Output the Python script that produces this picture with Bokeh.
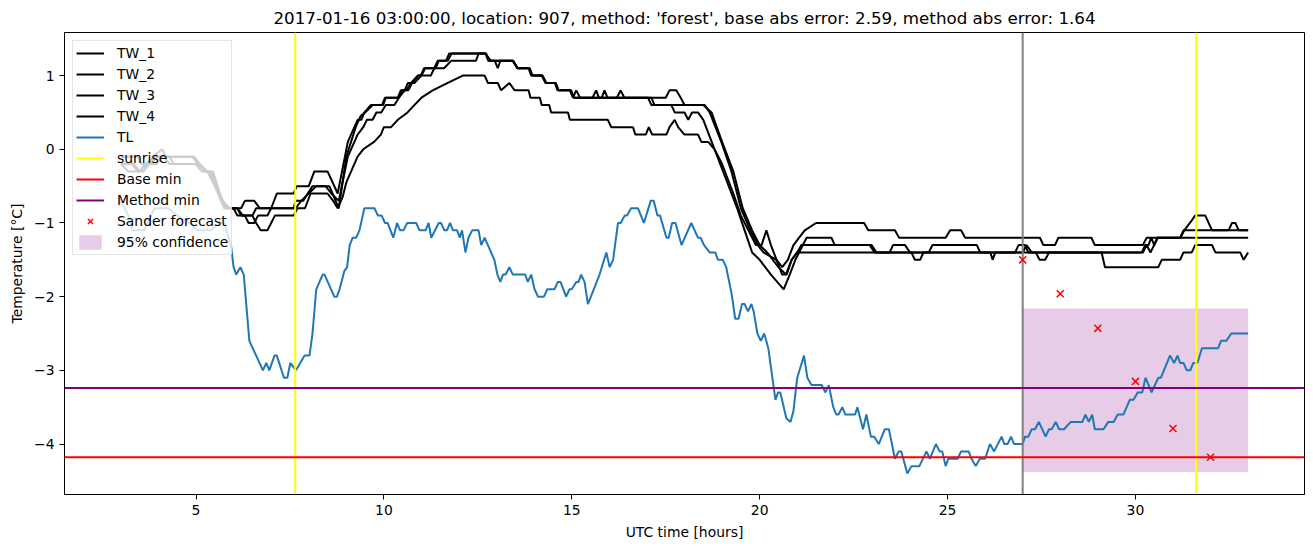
from bokeh.plotting import figure
from bokeh.models import Range1d, Legend, LegendItem, FixedTicker, CustomJSTickFormatter
from bokeh.embed import file_html
from bokeh.resources import INLINE

TITLE = "2017-01-16 03:00:00, location: 907, method: 'forest', base abs error: 2.59, method abs error: 1.64"
X_LABEL = "UTC time [hours]"
Y_LABEL = "Temperature [\u00b0C]"
X_TICKS = [5, 10, 15, 20, 25, 30]
Y_TICKS = [-4, -3, -2, -1, 0, 1]

# (hour, value) pairs
TW_1 = [(3.0,-0.1),(3.45,-0.1),(3.55,-0.2),(3.75,-0.2),(3.85,-0.1),(4.1,0.0),(4.2,-0.1),(4.95,-0.1),(5.1,-0.2),(5.3,-0.3),(5.5,-0.5),(5.75,-0.8),(6.2,-0.8),(6.3,-0.7),(6.55,-0.7),(6.7,-0.8),(7.0,-0.8),(7.15,-0.6),(7.6,-0.6),(7.68,-0.5),(8.0,-0.5),(8.15,-0.3),(8.5,-0.3),(8.77,-0.6),(9.04,0.1),(9.3,0.4),(9.4,0.4),(9.48,0.5),(9.65,0.6),(9.95,0.6),(10.03,0.7),(10.37,0.7),(10.45,0.8),(10.6,0.8),(10.72,0.9),(10.9,1.0),(10.98,1.0),(11.07,1.1),(11.34,1.1),(11.43,1.2),(11.65,1.2),(11.74,1.3),(12.72,1.3),(12.8,1.2),(13.45,1.2),(13.55,1.1),(13.85,1.1),(13.92,1.0),(14.2,1.0),(14.3,0.9),(14.55,0.9),(14.62,0.8),(14.95,0.8),(15.03,0.7),(15.12,0.8),(15.22,0.7),(15.8,0.7),(15.87,0.8),(15.95,0.7),(17.03,0.7),(17.12,0.6),(18.54,0.6),(18.67,0.5),(18.98,0.1),(19.25,-0.3),(19.5,-0.8),(19.75,-1.1),(19.95,-1.3),(20.1,-1.4),(20.45,-1.5),(20.6,-1.6),(20.75,-1.5),(20.9,-1.3),(21.05,-1.2),(21.2,-1.1),(21.5,-1.0),(22.78,-1.0),(22.89,-1.1),(23.6,-1.1),(23.71,-1.2),(24.95,-1.2),(25.07,-1.1),(25.36,-1.1),(25.47,-1.2),(27.46,-1.2),(27.55,-1.3),(27.86,-1.3),(27.95,-1.2),(28.83,-1.2),(28.92,-1.3),(30.2,-1.3),(30.3,-1.2),(31.2,-1.2),(31.3,-1.1),(31.45,-1.0),(31.59,-0.9),(31.86,-0.9),(32.04,-1.1),(33.0,-1.1)]

TW_2 = [(3.0,-0.2),(3.3,-0.2),(3.45,-0.3),(3.6,-0.3),(3.75,-0.2),(4.0,-0.1),(4.9,-0.1),(5.05,-0.2),(5.25,-0.3),(5.4,-0.3),(5.55,-0.5),(5.8,-0.8),(6.1,-0.8),(6.25,-0.9),(6.5,-0.9),(6.6,-0.8),(7.6,-0.8),(7.65,-0.7),(7.85,-0.7),(8.1,-0.5),(8.55,-0.5),(8.8,-0.8),(9.0,-0.1),(9.25,0.3),(9.38,0.45),(9.5,0.5),(9.7,0.6),(9.98,0.6),(10.05,0.7),(10.4,0.7),(10.48,0.8),(10.65,0.8),(10.75,0.9),(10.92,1.0),(11.0,1.0),(11.1,1.1),(11.38,1.1),(11.46,1.2),(11.7,1.2),(11.8,1.3),(12.7,1.3),(12.78,1.2),(13.43,1.2),(13.57,1.1),(13.88,1.1),(13.95,1.0),(14.22,1.0),(14.32,0.9),(14.57,0.9),(14.65,0.8),(14.98,0.8),(15.05,0.7),(16.2,0.7),(16.3,0.8),(16.4,0.7),(17.12,0.7),(17.2,0.6),(17.65,0.6),(17.74,0.5),(18.0,0.5),(18.1,0.4),(18.2,0.5),(18.36,0.5),(18.5,0.4),(18.8,0.0),(19.1,-0.4),(19.4,-0.8),(19.6,-1.1),(19.8,-1.4),(20.0,-1.5),(20.3,-1.7),(20.64,-1.9),(20.8,-1.7),(20.95,-1.5),(21.05,-1.4),(21.15,-1.3),(21.25,-1.2),(21.91,-1.2),(22.0,-1.3),(22.93,-1.3),(23.06,-1.4),(23.46,-1.4),(23.55,-1.3),(23.87,-1.3),(24.0,-1.4),(26.8,-1.4),(26.89,-1.3),(27.06,-1.3),(27.15,-1.4),(27.35,-1.4),(27.45,-1.5),(27.6,-1.5),(27.7,-1.4),(30.17,-1.4),(30.26,-1.3),(30.35,-1.3),(30.42,-1.2),(30.5,-1.3),(30.58,-1.2),(31.19,-1.2),(31.28,-1.1),(32.48,-1.1),(32.57,-1.0),(32.66,-1.0),(32.75,-1.1),(33.0,-1.1)]

TW_3 = [(3.0,-0.2),(3.35,-0.2),(3.5,-0.3),(3.65,-0.2),(3.9,-0.1),(4.15,-0.1),(4.3,-0.2),(5.0,-0.2),(5.15,-0.3),(5.35,-0.3),(5.6,-0.6),(5.85,-0.8),(6.0,-0.8),(6.1,-0.9),(6.3,-0.9),(6.4,-1.0),(6.55,-1.0),(6.65,-0.9),(6.9,-0.9),(7.0,-0.8),(7.65,-0.8),(7.8,-0.7),(8.0,-0.6),(8.2,-0.5),(8.45,-0.5),(8.6,-0.6),(8.8,-0.7),(9.04,-0.1),(9.3,0.2),(9.45,0.3),(9.55,0.4),(9.7,0.4),(9.8,0.5),(9.93,0.5),(10.05,0.6),(10.28,0.6),(10.4,0.7),(10.55,0.8),(10.64,0.9),(10.81,0.9),(11.0,1.0),(11.25,1.0),(11.34,1.1),(11.6,1.1),(11.79,1.2),(12.45,1.2),(12.52,1.3),(12.7,1.3),(12.85,1.2),(12.95,1.2),(13.03,1.1),(13.1,1.2),(13.43,1.2),(13.55,1.1),(13.88,1.1),(13.95,1.0),(14.22,1.0),(14.32,0.9),(14.57,0.9),(14.65,0.8),(14.98,0.8),(15.05,0.7),(15.55,0.7),(15.65,0.8),(15.72,0.7),(17.5,0.7),(17.6,0.8),(17.78,0.8),(17.9,0.7),(18.0,0.6),(18.5,0.6),(18.72,0.5),(19.0,0.1),(19.3,-0.3),(19.55,-0.8),(19.8,-1.1),(20.0,-1.3),(20.2,-1.4),(20.5,-1.6),(20.7,-1.7),(20.85,-1.5),(21.0,-1.4),(21.11,-1.3),(22.98,-1.3),(23.11,-1.4),(24.04,-1.4),(24.13,-1.5),(24.27,-1.5),(24.36,-1.4),(26.14,-1.4),(26.2,-1.5),(26.27,-1.4),(27.0,-1.4),(27.1,-1.3),(27.24,-1.4),(30.2,-1.4),(30.3,-1.3),(30.4,-1.4),(30.5,-1.3),(30.6,-1.2),(33.0,-1.2)]

TW_4 = [(3.0,-0.2),(3.2,-0.3),(3.5,-0.3),(3.7,-0.2),(3.95,-0.2),(4.1,-0.1),(4.3,-0.1),(4.4,-0.2),(5.1,-0.2),(5.25,-0.3),(5.45,-0.3),(5.7,-0.7),(5.9,-0.8),(6.1,-0.8),(6.2,-0.9),(6.5,-0.9),(6.6,-1.0),(6.72,-1.1),(6.9,-1.1),(7.0,-1.0),(7.1,-0.9),(7.6,-0.9),(7.7,-0.8),(7.9,-0.8),(8.05,-0.6),(8.5,-0.6),(8.65,-0.7),(8.77,-0.8),(8.9,-0.65),(9.0,-0.45),(9.3,-0.1),(9.45,0.0),(9.74,0.1),(9.92,0.2),(10.0,0.3),(10.19,0.3),(10.37,0.4),(10.63,0.5),(10.81,0.6),(11.0,0.7),(11.3,0.8),(11.7,0.9),(12.1,1.0),(12.68,1.0),(12.77,0.9),(13.03,0.9),(13.12,0.8),(13.34,0.9),(13.48,0.8),(13.85,0.8),(13.9,0.7),(14.15,0.7),(14.2,0.6),(14.4,0.6),(14.45,0.5),(14.9,0.5),(14.95,0.4),(15.96,0.4),(16.05,0.3),(16.63,0.3),(16.69,0.2),(16.97,0.2),(17.05,0.3),(17.14,0.2),(17.52,0.2),(17.6,0.3),(17.74,0.4),(17.83,0.3),(18.0,0.2),(18.36,0.2),(18.45,0.1),(18.63,0.1),(18.8,0.0),(19.0,-0.2),(19.3,-0.6),(19.5,-0.9),(19.7,-1.1),(19.9,-1.3),(20.05,-1.3),(20.18,-1.1),(20.3,-1.3),(20.45,-1.5),(20.6,-1.7),(20.72,-1.7),(20.85,-1.5),(21.0,-1.4),(24.5,-1.4),(24.6,-1.3),(25.78,-1.3),(25.87,-1.4),(29.1,-1.4),(29.19,-1.6),(30.61,-1.6),(30.7,-1.5),(31.19,-1.5),(31.28,-1.4),(31.5,-1.4),(31.59,-1.3),(32.04,-1.3),(32.13,-1.4),(32.79,-1.4),(32.88,-1.5),(33.0,-1.4)]

TL = [(3.0,-0.7),(3.2,-0.9),(3.31,-1.1),(3.62,-1.1),(3.89,-0.8),(4.25,-0.8),(4.51,-0.9),(4.82,-1.0),(5.04,-1.1),(5.4,-1.1),(5.61,-1.0),(5.75,-1.0),(5.93,-1.3),(6.0,-1.6),(6.07,-1.7),(6.18,-1.6),(6.27,-1.7),(6.42,-2.6),(6.78,-3.0),(6.87,-2.9),(6.95,-3.0),(7.09,-2.8),(7.15,-2.8),(7.34,-3.1),(7.43,-3.1),(7.51,-2.9),(7.66,-3.0),(7.89,-2.8),(8.02,-2.8),(8.1,-2.5),(8.2,-1.9),(8.37,-1.7),(8.42,-1.7),(8.68,-2.0),(8.75,-2.0),(8.82,-1.9),(8.95,-1.65),(9.02,-1.6),(9.09,-1.3),(9.17,-1.2),(9.26,-1.2),(9.35,-1.1),(9.48,-0.8),(9.55,-0.8),(9.75,-0.8),(9.84,-0.9),(9.94,-0.9),(10.03,-1.0),(10.1,-1.0),(10.25,-1.2),(10.35,-1.0),(10.43,-1.1),(10.52,-1.1),(10.62,-1.0),(10.86,-1.0),(10.95,-1.1),(11.11,-1.1),(11.19,-1.0),(11.26,-1.2),(11.46,-1.0),(11.52,-1.0),(11.61,-1.1),(11.68,-1.1),(11.76,-1.0),(11.84,-1.1),(11.95,-1.1),(12.02,-1.2),(12.08,-1.1),(12.17,-1.4),(12.25,-1.2),(12.35,-1.1),(12.52,-1.1),(12.59,-1.3),(12.68,-1.2),(12.94,-1.5),(13.02,-1.7),(13.1,-1.8),(13.17,-1.7),(13.24,-1.7),(13.34,-1.6),(13.43,-1.7),(13.76,-1.7),(13.83,-1.8),(13.92,-1.7),(14.01,-1.9),(14.1,-2.0),(14.26,-2.0),(14.35,-1.9),(14.54,-1.9),(14.63,-1.8),(14.7,-1.8),(14.85,-2.0),(14.94,-1.9),(15.0,-1.9),(15.12,-1.8),(15.18,-1.8),(15.25,-1.7),(15.34,-1.8),(15.43,-2.1),(15.74,-1.7),(15.92,-1.4),(16.01,-1.6),(16.1,-1.5),(16.23,-1.0),(16.3,-1.0),(16.41,-0.9),(16.47,-0.9),(16.58,-0.8),(16.76,-0.8),(16.92,-1.0),(17.1,-0.7),(17.18,-0.7),(17.28,-0.9),(17.35,-0.9),(17.52,-1.2),(17.58,-1.2),(17.67,-1.0),(17.76,-1.0),(17.92,-1.3),(18.18,-1.0),(18.36,-1.2),(18.43,-1.2),(18.52,-1.3),(18.67,-1.4),(18.82,-1.4),(18.89,-1.5),(19.02,-1.5),(19.11,-1.6),(19.25,-1.95),(19.35,-2.3),(19.44,-2.3),(19.53,-2.1),(19.6,-2.1),(19.69,-2.2),(19.78,-2.1),(19.84,-2.2),(19.94,-2.5),(20.03,-2.6),(20.12,-2.5),(20.23,-2.7),(20.42,-3.4),(20.49,-3.3),(20.55,-3.3),(20.71,-3.65),(20.82,-3.7),(20.9,-3.55),(21.0,-3.1),(21.18,-2.8),(21.27,-3.1),(21.38,-3.2),(21.65,-3.2),(21.75,-3.3),(21.84,-3.2),(21.96,-3.5),(22.04,-3.6),(22.1,-3.6),(22.2,-3.5),(22.28,-3.6),(22.54,-3.6),(22.6,-3.5),(22.75,-3.8),(22.84,-3.6),(22.96,-3.9),(23.05,-3.9),(23.17,-4.0),(23.33,-3.8),(23.44,-3.8),(23.6,-4.2),(23.7,-4.1),(23.77,-4.1),(23.93,-4.4),(24.04,-4.3),(24.25,-4.3),(24.44,-4.1),(24.53,-4.2),(24.69,-4.0),(24.79,-4.1),(24.86,-4.1),(24.95,-4.3),(25.02,-4.2),(25.27,-4.2),(25.36,-4.1),(25.56,-4.1),(25.64,-4.2),(25.75,-4.3),(25.86,-4.2),(26.0,-4.2),(26.13,-4.0),(26.24,-4.1),(26.44,-3.9),(26.51,-4.0),(26.6,-4.0),(26.69,-3.9),(26.77,-4.0),(27.0,-4.0),(27.06,-3.9),(27.15,-3.9),(27.24,-3.8),(27.33,-3.8),(27.43,-3.7),(27.61,-3.9),(27.7,-3.8),(27.77,-3.8),(27.88,-3.7),(27.97,-3.8),(28.1,-3.8),(28.28,-3.7),(28.59,-3.7),(28.67,-3.6),(28.76,-3.7),(28.85,-3.6),(28.92,-3.8),(29.15,-3.8),(29.28,-3.7),(29.42,-3.7),(29.53,-3.6),(29.68,-3.6),(29.85,-3.4),(29.95,-3.4),(30.06,-3.3),(30.18,-3.3),(30.27,-3.1),(30.43,-3.3),(30.61,-3.1),(30.68,-3.1),(30.92,-2.8),(31.03,-2.9),(31.12,-2.8),(31.19,-2.9),(31.28,-2.9),(31.37,-3.0),(31.46,-3.0),(31.54,-2.9),(31.65,-2.9),(31.77,-2.7),(32.2,-2.7),(32.28,-2.6),(32.42,-2.6),(32.55,-2.5),(33.0,-2.5)]

SUNRISE = [7.64, 31.62]
FORECAST_START = [27.0]
BASE_MIN = [-4.18]
METHOD_MIN = [-3.24]
SANDER_HOURS = [27, 28, 29, 30, 31, 32]
SANDER_VALUES = [-1.5, -1.96, -2.43, -3.15, -3.79, -4.18]
CONF_HOURS = [27.0, 33.0]
CONF_LOW = -4.38
CONF_HIGH = -2.16

X_RANGE = (1.5, 34.5)
Y_RANGE = (-4.685, 1.585)

FONT = "DejaVu Sans"
FS = "13.9px"

p = figure(width=1313, height=547, output_backend="svg", toolbar_location=None,
           x_range=Range1d(*X_RANGE), y_range=Range1d(*Y_RANGE),
           min_border_left=64, min_border_right=9, min_border_top=32, min_border_bottom=53,
           title=TITLE)
p.background_fill_color = "white"
p.border_fill_color = "white"
p.grid.visible = False
p.outline_line_color = "black"
p.outline_line_width = 1
p.outline_line_alpha = 1

p.title.align = "center"
p.title.text_font = FONT
p.title.text_font_size = "16.7px"
p.title.text_font_style = "normal"
p.title.text_color = "black"

for ax in (p.xaxis[0], p.yaxis[0]):
    ax.axis_line_color = "black"
    ax.major_tick_line_color = "black"
    ax.minor_tick_line_color = None
    ax.major_tick_out = 5
    ax.major_tick_in = 0
    ax.major_label_text_font = FONT
    ax.major_label_text_font_size = FS
    ax.major_label_text_color = "black"
    ax.major_label_standoff = 5
    ax.axis_label_text_font = FONT
    ax.axis_label_text_font_size = FS
    ax.axis_label_text_font_style = "normal"
    ax.axis_label_text_color = "black"
    ax.axis_label_standoff = 6

p.xaxis[0].ticker = FixedTicker(ticks=X_TICKS)
p.yaxis[0].ticker = FixedTicker(ticks=Y_TICKS)
p.yaxis[0].formatter = CustomJSTickFormatter(code="return tick < 0 ? '\u2212' + String(-tick) : String(tick);")
p.xaxis[0].axis_label = X_LABEL
p.yaxis[0].axis_label = Y_LABEL

# confidence band (below lines, like matplotlib patches)
conf = p.quad(left=[CONF_HOURS[0]], right=[CONF_HOURS[1]], bottom=[CONF_LOW], top=[CONF_HIGH],
              fill_color="purple", fill_alpha=0.2, line_color=None)

tw_renderers = []
for series in (TW_1, TW_2, TW_3, TW_4):
    r = p.line([h for h, _ in series], [v for _, v in series], line_color="black", line_width=2)
    tw_renderers.append(r)

tl = p.line([h for h, _ in TL], [v for _, v in TL], line_color="#1f77b4", line_width=2)

# full-height / full-width reference lines, spanning the axis ranges
sun = p.segment(x0=SUNRISE, x1=SUNRISE, y0=[Y_RANGE[0]] * len(SUNRISE), y1=[Y_RANGE[1]] * len(SUNRISE),
                line_color="yellow", line_width=2)
p.segment(x0=FORECAST_START, x1=FORECAST_START, y0=[Y_RANGE[0]], y1=[Y_RANGE[1]],
          line_color="grey", line_width=2)
base = p.segment(x0=[X_RANGE[0]], x1=[X_RANGE[1]], y0=BASE_MIN, y1=BASE_MIN,
                 line_color="red", line_width=2)
meth = p.segment(x0=[X_RANGE[0]], x1=[X_RANGE[1]], y0=METHOD_MIN, y1=METHOD_MIN,
                 line_color="purple", line_width=2)

sander = p.scatter(SANDER_HOURS, SANDER_VALUES, marker="x", size=10, line_color="red",
                   line_width=1.5)

items = [LegendItem(label="TW_%d" % (i + 1), renderers=[r]) for i, r in enumerate(tw_renderers)]
items += [
    LegendItem(label="TL", renderers=[tl]),
    LegendItem(label="sunrise", renderers=[sun]),
    LegendItem(label="Base min", renderers=[base]),
    LegendItem(label="Method min", renderers=[meth]),
    LegendItem(label="Sander forecast", renderers=[sander]),
    LegendItem(label="95% confidence", renderers=[conf]),
]
legend = Legend(items=items, location="top_left")
legend.label_text_font = FONT
legend.label_text_font_size = FS
legend.label_text_color = "black"
legend.glyph_width = 28
legend.glyph_height = 18
legend.label_height = 18
legend.spacing = 3
legend.padding = 3
legend.margin = 8
legend.label_standoff = 13
legend.border_line_color = "#cccccc"
legend.border_line_width = 1
legend.background_fill_color = "white"
legend.background_fill_alpha = 0.8
p.add_layout(legend)

open("out.html", "w", encoding="utf-8").write(file_html(p, INLINE))
